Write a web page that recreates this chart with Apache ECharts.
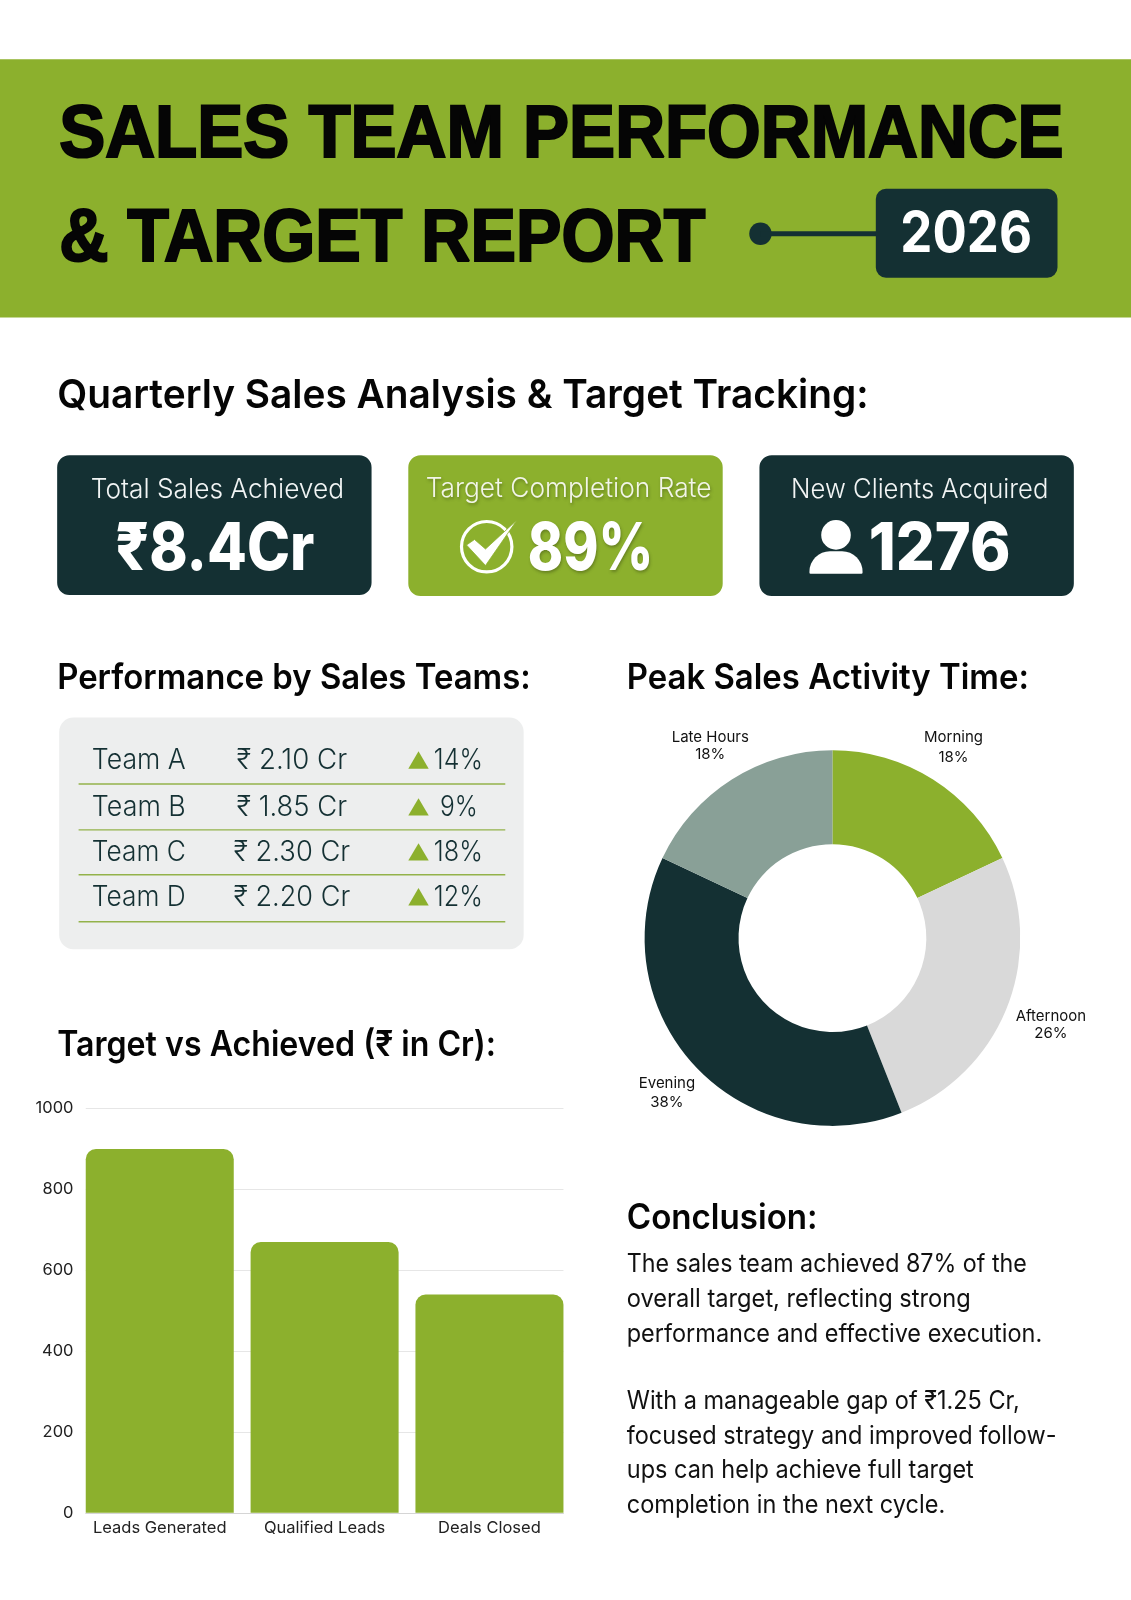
<!DOCTYPE html>
<html>
<head>
<meta charset="utf-8">
<style>html,body{margin:0;padding:0;background:#fff}#c{width:1131px;height:1600px}</style>
<script src="https://cdn.jsdelivr.net/npm/echarts@6/dist/echarts.min.js"></script>
</head>
<body>
<div id="c"></div>
<script>
// ---- data ----
const titleLines = ['SALES TEAM PERFORMANCE', '& TARGET REPORT'];
const reportYear = '2026';
const kpiLabels = ['Total Sales Achieved', 'Target Completion Rate', 'New Clients Acquired'];
const kpiValues = ['₹8.4Cr', '89%', '1276'];
const teamNames = ['Team A', 'Team B', 'Team C', 'Team D'];
const teamSales = ['₹ 2.10 Cr', '₹ 1.85 Cr', '₹ 2.30 Cr', '₹ 2.20 Cr'];
const teamGrowth = ['14%', '9%', '18%', '12%'];
const barCategories = ['Leads Generated', 'Qualified Leads', 'Deals Closed'];
const barValues = [900, 670, 540];
const yAxisMax = 1000;
const yAxisStep = 200;
const pieNames = ['Morning', 'Afternoon', 'Evening', 'Late Hours'];
const pieValues = [18, 26, 38, 18];
const conclusionLines = [
  'The sales team achieved 87% of the',
  'overall target, reflecting strong',
  'performance and effective execution.',
  'With a manageable gap of ₹1.25 Cr,',
  'focused strategy and improved follow-',
  'ups can help achieve full target',
  'completion in the next cycle.'
];

// ---- styling ----
const S = 1131 / 1108;            // layout below is measured on a 1108-wide view
const u = v => v * S;
const GREEN = '#8CB02D', DARK = '#143033', GREY = '#89A097', LIGHT = '#D9D9D9';
const FONT = 'Inter, "Noto Sans", sans-serif';
const ctx = document.createElement('canvas').getContext('2d');

// text fitted between two x positions, vertically centred on y
function fit(text, x0, x1, y, size, weight, fill, extra, family) {
  const font = weight + ' ' + size + 'px ' + (family || FONT);
  ctx.font = font;
  const w = ctx.measureText(text).width;
  return {
    type: 'text', x: u(x0), y: u(y) + size * 0.04, scaleX: u(x1 - x0) / w, z: 10, silent: true,
    style: Object.assign({ text, font, fill, textAlign: 'left', textVerticalAlign: 'middle' }, extra || {})
  };
}
const rect = (x0, y0, x1, y1, r, fill) => ({
  type: 'rect', silent: true, shape: { x: u(x0), y: u(y0), width: u(x1 - x0), height: u(y1 - y0), r: Array.isArray(r) ? r.map(u) : u(r) }, style: { fill }
});
const gfx = [];

// header
gfx.push(rect(0, 58, 1108, 311, 0, GREEN));
const titleStroke = { stroke: '#050505', lineWidth: 2.2 };
gfx.push(fit(titleLines[0], 58, 1042, 131, 74, 700, '#050505', titleStroke, '"Liberation Sans"'));
gfx.push(fit(titleLines[1], 58, 691, 233, 74, 700, '#050505', titleStroke, '"Liberation Sans"'));
gfx.push({ type: 'circle', silent: true, shape: { cx: u(745), cy: u(229), r: u(11) }, style: { fill: DARK } });
gfx.push(rect(745, 226.5, 860, 231.5, 0, DARK));
gfx.push(rect(858, 185, 1036, 272, 10, DARK));
gfx.push(fit(reportYear, 882, 1011, 228, 56, 700, '#fff'));

// section headings
gfx.push(fit('Quarterly Sales Analysis & Target Tracking:', 56, 851, 386, 40, 620, '#050505'));
gfx.push(fit('Performance by Sales Teams:', 56, 520, 663, 35, 620, '#050505'));
gfx.push(fit('Peak Sales Activity Time:', 614, 1008, 663, 35, 620, '#050505'));
gfx.push(fit('Target vs Achieved (₹ in Cr):', 56, 486, 1023, 35, 620, '#050505'));
gfx.push(fit('Conclusion:', 614, 801, 1192, 35, 620, '#050505'));

// KPI cards
gfx.push(rect(56, 446, 364, 583, 12, DARK));
gfx.push(rect(400, 446, 708, 584, 12, GREEN));
gfx.push(rect(744, 446, 1052, 584, 12, DARK));
const soft = { textShadowColor: 'rgba(60,75,20,0.45)', textShadowBlur: 3, textShadowOffsetX: 1, textShadowOffsetY: 2 };
gfx.push(fit(kpiLabels[0], 89, 337, 479, 27, 300, '#F2F5F5'));
gfx.push(fit(kpiLabels[1], 417, 697, 478, 27, 300, '#F2F5E8', soft));
gfx.push(fit(kpiLabels[2], 775, 1027, 479, 27, 300, '#F2F5F5'));
gfx.push(fit(kpiValues[0], 113, 308, 536, 66, 800, '#fff'));
gfx.push(fit(kpiValues[1], 517, 640, 536, 66, 800, '#fff', soft));
gfx.push(fit(kpiValues[2], 851, 990, 536, 66, 800, '#fff'));
// check icon
gfx.push({ type: 'circle', silent: true, shape: { cx: 486.7, cy: 546.7, r: 25.2 }, style: { fill: 'none', stroke: '#fff', lineWidth: 3.2 } });
gfx.push({ type: 'polygon', silent: true, z: 11,
  shape: { points: [[466.5, 545], [474.5, 539.5], [485.5, 549], [517, 520], [485.5, 565.5]] },
  style: { fill: '#fff', stroke: GREEN, lineWidth: 0.8 } });
// person icon
gfx.push({ type: 'circle', silent: true, shape: { cx: u(819), cy: u(524), r: u(14.5) }, style: { fill: '#fff' } });
gfx.push(rect(793, 540, 845, 562, [20, 20, 1, 1], '#fff'));

// team table
gfx.push(rect(58, 703, 513, 930, 14, '#EDEEEE'));
const rowY = [744, 790, 834, 878];
const ruleY = [768, 813, 857, 903];
const salesX = [[232, 340], [232, 340], [229, 343], [229, 343]];
const growthX = [[425, 473], [431, 468], [425, 473], [425, 473]];
teamNames.forEach((name, i) => {
  const y = rowY[i];
  gfx.push(fit(name, 90, 182, y, 28, 300, DARK));
  gfx.push(fit(teamSales[i], salesX[i][0], salesX[i][1], y, 28, 300, DARK));
  gfx.push(fit(teamGrowth[i], growthX[i][0], growthX[i][1], y, 28, 300, DARK));
  gfx.push({ type: 'polygon', silent: true, shape: { points: [[u(410), u(y - 8)], [u(420), u(y + 9)], [u(400), u(y + 9)]] }, style: { fill: GREEN } });
  gfx.push(rect(77, ruleY[i] - 0.7, 495, ruleY[i] + 0.7, 0, '#93B24A'));
});

// conclusion
const conclY = [1238, 1272, 1306, 1372, 1406, 1440, 1474];
const conclEnd = [1006, 951, 1021, 999, 1035, 954, 926];
conclusionLines.forEach((t, i) => gfx.push(fit(t, 614, conclEnd[i], conclY[i], 25, 400, '#111')));

// pie label geometry
const pieTotal = pieValues.reduce((a, b) => a + b, 0);
const labelDist = [226, 235, 227, 228];
const labelLeading = [20, 17, 19, 17];
const pieCx = u(815.5), pieCy = u(919);

const chart = echarts.init(document.getElementById('c'), null, { width: 1131, height: 1600 });
chart.setOption({
  animation: false,
  backgroundColor: '#fff',
  tooltip: { show: false },
  graphic: { elements: gfx },
  grid: [
    { left: u(84), width: u(468), top: u(1086), height: u(396) },
    { left: u(75.75), width: u(484.5), top: u(1086), height: u(396) }
  ],
  xAxis: [
    { gridIndex: 0, type: 'value', min: 0, max: 1, axisLabel: { show: false }, axisTick: { show: false }, splitLine: { show: false },
      axisLine: { show: true, lineStyle: { color: '#D5D5D5', width: 1 } } },
    { gridIndex: 1, type: 'category', data: barCategories, axisTick: { show: false }, axisLine: { show: false },
      axisLabel: { color: '#222', fontFamily: FONT, fontSize: 16.5, margin: 7, interval: 0 } }
  ],
  yAxis: [
    { gridIndex: 0, type: 'value', min: 0, max: yAxisMax, interval: yAxisStep, axisLine: { show: false }, axisTick: { show: false },
      axisLabel: { color: '#222', fontFamily: FONT, fontSize: 16.5, margin: u(12), padding: [2, 0, 0, 0], formatter: v => String(v) },
      splitLine: { show: true, lineStyle: { color: '#E6E6E6', width: 1 } } },
    { gridIndex: 1, type: 'value', min: 0, max: yAxisMax, interval: yAxisStep, show: false, splitLine: { show: false } }
  ],
  series: [
    { type: 'bar', xAxisIndex: 1, yAxisIndex: 1, data: barValues, barWidth: u(145), silent: true,
      itemStyle: { color: GREEN, borderRadius: [u(10), u(10), 0, 0] } },
    { type: 'pie', center: [pieCx, pieCy], radius: [u(92), u(184)], startAngle: 90, clockwise: true, silent: true,
      data: pieNames.map((name, i) => ({ name, value: pieValues[i],
        label: { lineHeight: labelLeading[i] } })),
      color: [GREEN, LIGHT, DARK, GREY],
      itemStyle: { borderWidth: 0 },
      labelLine: { show: false },
      label: { show: true, position: 'outside', formatter: '{b}\n{d}%', color: '#111', fontFamily: FONT, fontSize: 15, width: 110, align: 'center' },
      labelLayout: p => {
        const before = pieValues.slice(0, p.dataIndex).reduce((a, b) => a + b, 0);
        const a = (before + pieValues[p.dataIndex] / 2) / pieTotal * Math.PI * 2;
        const d = labelDist[p.dataIndex];
        return { x: pieCx + Math.sin(a) * d, y: pieCy - Math.cos(a) * d, align: 'center', verticalAlign: 'middle' };
      }
    }
  ]
});
</script>
</body>
</html>
